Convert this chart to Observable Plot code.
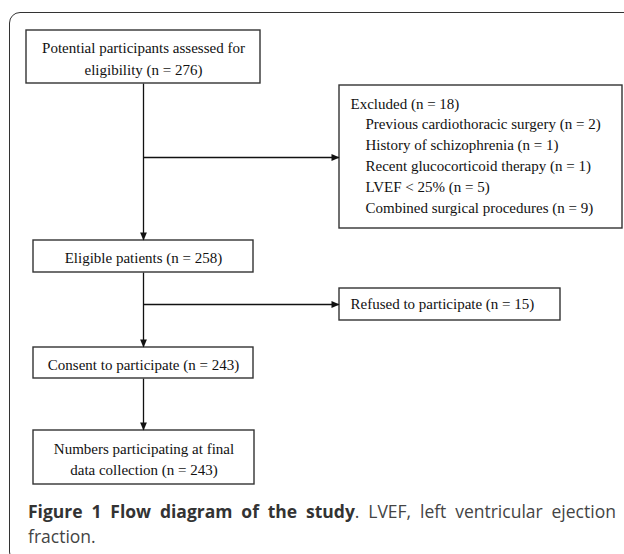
<!DOCTYPE html>
<html><head><meta charset="utf-8">
<script src="https://cdn.jsdelivr.net/npm/d3@7"></script>
<script src="https://cdn.jsdelivr.net/npm/@observablehq/plot@0.6"></script>
<style>
html,body{margin:0;padding:0;background:#fff;overflow:hidden;width:624px;height:554px;}
#chart{position:absolute;left:0;top:0;}
#frame{position:absolute;left:9px;top:12px;width:720px;height:551px;border:1.4px solid #333;border-radius:11px;box-sizing:border-box;pointer-events:none;}
#caption{position:absolute;left:28px;top:499px;width:588px;font-family:"Open Sans";font-size:17.5px;line-height:24.5px;color:#444;}
#caption .l1{white-space:nowrap;display:flex;justify-content:space-between;}
#caption .bold{color:#333;font-weight:700;}
</style></head><body>
<div id="chart"></div>
<div id="frame"></div>
<div id="caption"></div>
<script>
// ---- data ----
const stageLabels = ["Potential participants assessed for\neligibility", "Eligible patients", "Consent to participate", "Numbers participating at final\ndata collection"];
const stageCounts = [276, 258, 243, 243];
const excludedLabel = "Excluded";
const excludedCount = 18;
const exclusionReasons = ["Previous cardiothoracic surgery", "History of schizophrenia", "Recent glucocorticoid therapy", "LVEF < 25%", "Combined surgical procedures"];
const exclusionCounts = [2, 1, 1, 5, 9];
const refusedLabel = "Refused to participate";
const refusedCount = 15;
const captionTitle = "Figure 1 Flow diagram of the study";
const captionLine1 = ". LVEF, left ventricular ejection";
const captionLine2 = "fraction.";

// ---- layout (diagram geometry, in diagram units) ----
const mainBoxes = [
  {x1: 26, x2: 260, y1: 30, y2: 83},
  {x1: 33, x2: 253, y1: 240, y2: 272},
  {x1: 33, x2: 253, y1: 347, y2: 378},
  {x1: 33, x2: 254, y1: 430, y2: 484}
];
const excludedBox = {x1: 339, x2: 622, y1: 85, y2: 228};
const refusedBox = {x1: 339, x2: 560, y1: 288, y2: 320};
const spineX = 143;
const branchY = [157, 304];
const sideBoxes = [excludedBox, refusedBox];
const lineStep = 20.8;

const fmt = (label, n) => `${label} (n = ${n})`;

const mainNodes = mainBoxes.map((b, i) => ({...b, text: fmt(stageLabels[i], stageCounts[i])}));
const boxes = [...mainBoxes, excludedBox, refusedBox];

const vLinks = mainBoxes.slice(1).map((b, i) => ({x1: spineX, x2: spineX, y1: mainBoxes[i].y2, y2: b.y1}));
const hLinks = branchY.map((y, k) => ({x1: spineX, x2: sideBoxes[k].x1, y1: y, y2: y}));

const arrowDown = {draw(ctx) { ctx.moveTo(0, 0); ctx.lineTo(-3.4, -8); ctx.lineTo(3.4, -8); ctx.closePath(); }};
const arrowRight = {draw(ctx) { ctx.moveTo(0, 0); ctx.lineTo(-8, -3.4); ctx.lineTo(-8, 3.4); ctx.closePath(); }};

const serif = "Liberation Serif";
const textFill = "#111";

const chart = Plot.plot({
  width: 624,
  height: 495,
  margin: 0,
  x: {domain: [0, 624], range: [0, 624], axis: null},
  y: {domain: [0, 495], range: [0, 495], axis: null},
  style: {background: "transparent"},
  marks: [
    Plot.link([...vLinks, ...hLinks], {x1: "x1", y1: "y1", x2: "x2", y2: "y2", stroke: "#111", strokeWidth: 1.3}),
    Plot.rect(boxes, {x1: "x1", x2: "x2", y1: "y1", y2: "y2", fill: "white", stroke: "#333", strokeWidth: 1.4}),
    Plot.dot(vLinks, {x: "x2", y: "y2", symbol: arrowDown, fill: "#111", stroke: "none", r: 3}),
    Plot.dot(hLinks, {x: "x2", y: "y2", symbol: arrowRight, fill: "#111", stroke: "none", r: 3}),
    Plot.text(mainNodes, {x: d => (d.x1 + d.x2) / 2, y: d => (d.y1 + d.y2) / 2, text: "text", lineAnchor: "middle", lineHeight: 1.45, fontFamily: serif, fontSize: 15, fill: textFill}),
    Plot.text([fmt(excludedLabel, excludedCount)], {x: excludedBox.x1 + 11, y: excludedBox.y1 + 12.4, text: d => d, textAnchor: "start", lineAnchor: "top", fontFamily: serif, fontSize: 15, fill: textFill}),
    Plot.text(exclusionReasons.map((r, i) => fmt(r, exclusionCounts[i])), {x: excludedBox.x1 + 26, y: (d, i) => excludedBox.y1 + 12.4 + (i + 1) * lineStep, text: d => d, textAnchor: "start", lineAnchor: "top", fontFamily: serif, fontSize: 15, fill: textFill}),
    Plot.text([fmt(refusedLabel, refusedCount)], {x: refusedBox.x1 + 11, y: (refusedBox.y1 + refusedBox.y2) / 2, text: d => d, textAnchor: "start", lineAnchor: "middle", fontFamily: serif, fontSize: 15, fill: textFill})
  ]
});
document.getElementById("chart").appendChild(chart);

// caption: words of line 1 spread to the full width (justified), line 2 below
const cap = document.getElementById("caption");
const l1 = document.createElement("div");
l1.className = "l1";
const titleWords = captionTitle.split(" ");
const rest = captionLine1.split(" ");
titleWords.slice(0, -1).forEach(w => { const s = document.createElement("span"); s.className = "bold"; s.textContent = w; l1.appendChild(s); });
const glued = document.createElement("span");
const gb = document.createElement("span"); gb.className = "bold"; gb.textContent = titleWords[titleWords.length - 1];
const gr = document.createElement("span"); gr.textContent = rest[0];
glued.appendChild(gb); glued.appendChild(gr);
l1.appendChild(glued);
rest.slice(1).forEach(w => { const s = document.createElement("span"); s.textContent = w; l1.appendChild(s); });
const l2 = document.createElement("div");
l2.textContent = captionLine2;
cap.appendChild(l1); cap.appendChild(l2);
</script>
</body></html>
